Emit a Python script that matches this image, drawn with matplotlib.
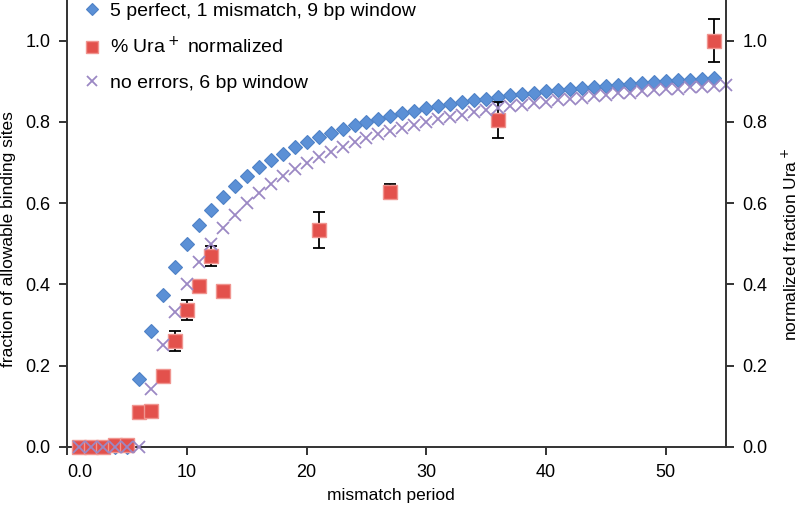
import matplotlib
matplotlib.use("Agg")
import matplotlib.pyplot as plt

plt.rcParams['font.family'] = ['Liberation Sans', 'DejaVu Sans']

# 5 perfect, 1 mismatch, 9 bp window
blue_x = list(range(1, 55))
blue_y = [0, 0, 0, 0, 0, 0.167, 0.286, 0.375, 0.444, 0.5, 0.545, 0.583, 0.615,
          0.643, 0.667, 0.688, 0.706, 0.722, 0.737, 0.75, 0.762, 0.773, 0.783,
          0.792, 0.8, 0.808, 0.815, 0.821, 0.828, 0.833, 0.839, 0.844, 0.848,
          0.853, 0.857, 0.861, 0.865, 0.868, 0.872, 0.875, 0.878, 0.881, 0.884,
          0.886, 0.889, 0.891, 0.894, 0.896, 0.898, 0.9, 0.902, 0.904, 0.906,
          0.907]

# no errors, 6 bp window
purple_x = list(range(1, 56))
purple_y = [0, 0, 0, 0, 0, 0, 0.143, 0.25, 0.333, 0.4, 0.455, 0.5, 0.538,
            0.571, 0.6, 0.625, 0.647, 0.667, 0.684, 0.7, 0.714, 0.727, 0.739,
            0.75, 0.76, 0.769, 0.778, 0.786, 0.793, 0.8, 0.806, 0.813, 0.818,
            0.824, 0.829, 0.833, 0.838, 0.842, 0.846, 0.85, 0.854, 0.857, 0.86,
            0.864, 0.867, 0.87, 0.872, 0.875, 0.878, 0.88, 0.882, 0.885, 0.887,
            0.889, 0.891]

# % Ura+ normalized
ura_x = [1, 2, 3, 4, 5, 6, 7, 8, 9, 10, 11, 12, 13, 21, 27, 36, 54]
ura_y = [0, 0, 0, 0.004, 0.004, 0.085, 0.088, 0.175, 0.261, 0.337, 0.396,
         0.470, 0.384, 0.534, 0.628, 0.805, 1.0]
ura_err = [0, 0, 0, 0, 0, 0, 0, 0, 0.025, 0.025, 0, 0.025, 0, 0.044, 0.018,
           0.044, 0.053]

yticks = [0, 0.2, 0.4, 0.6, 0.8, 1.0]
ytick_labels = ['0.0', '0.2', '0.4', '0.6', '0.8', '1.0']
xticks = [0, 10, 20, 30, 40, 50]
xtick_labels = ['0.0', '10', '20', '30', '40', '50']

fig = plt.figure(figsize=(8.0, 5.09), dpi=100)
ax = fig.add_axes([0.084, 0.122, 0.823, 0.878])

ax.plot(blue_x, blue_y, linestyle='none', marker='D', ms=7.5,
        mfc='#5b90d6', mec='#4f82c6', mew=0.8, clip_on=False, zorder=3,
        label='5 perfect, 1 mismatch, 9 bp window')
ax.errorbar(ura_x, ura_y, yerr=ura_err, fmt='none', ecolor='black',
            elinewidth=1.3, capsize=4, capthick=1.3, zorder=3.5)
ax.plot(ura_x, ura_y, linestyle='none', marker='s', ms=10,
        mfc='#e3514c', mec='#f09590', mew=1.0, clip_on=False, zorder=4,
        label='% Ura$^+$ normalized')
ax.plot(purple_x, purple_y, linestyle='none', marker='x', ms=9,
        mec='#9b88c4', mew=1.3, clip_on=False, zorder=5,
        label='no errors, 6 bp window')

ax.set_xlim(0, 55)
ax.set_ylim(0, 1.1)
ax.set_xticks(xticks)
ax.set_xticklabels(xtick_labels)
ax.set_yticks(yticks)
ax.set_yticklabels(ytick_labels)

ax2 = ax.twinx()
ax2.set_ylim(0, 1.1)
ax2.set_yticks(yticks)
ax2.set_yticklabels(ytick_labels)

for a in (ax, ax2):
    for s in a.spines.values():
        s.set_color('#333333')
        s.set_linewidth(1.4)
    a.spines['top'].set_visible(False)
    a.tick_params(direction='out', length=6, width=1.4, color='#333333',
                  labelsize=13, pad=6)
ax.spines['right'].set_visible(False)
ax2.spines['left'].set_visible(False)
ax2.spines['bottom'].set_visible(False)

# Excel-style: first x label sits right of its tick
ax.xaxis.get_major_ticks()[0].label1.set_horizontalalignment('left')

fig.text(0.489, 0.027, 'mismatch period', fontsize=12.5, ha='center', va='center')
fig.text(0.011, 0.530, 'fraction of allowable binding sites', fontsize=12.5,
         rotation=90, ha='center', va='center')
fig.text(0.988, 0.52, 'normalized fraction Ura$^+$', fontsize=12.5,
         rotation=90, ha='center', va='center')

ax.legend(loc='upper left', bbox_to_anchor=(0.0, 1.025), frameon=False,
          fontsize=14, handletextpad=0.3, labelspacing=0.85, borderaxespad=0.3,
          handlelength=1.2, markerscale=0.85)

fig.savefig('out.png', dpi=100)
